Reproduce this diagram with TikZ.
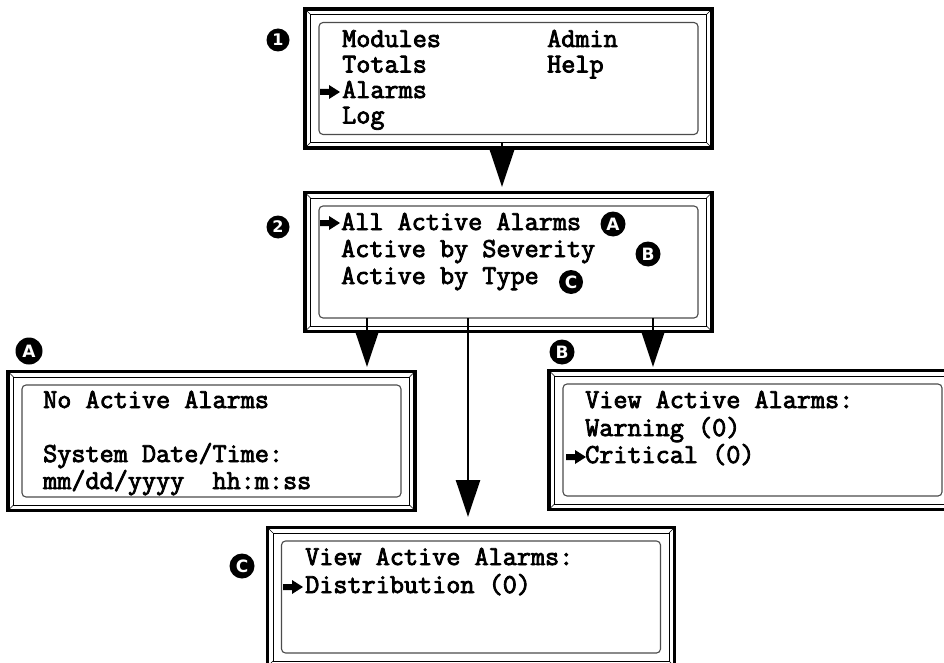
\documentclass[tikz,border=0pt]{standalone}
\usepackage{fontspec}
\setmonofont{Latin Modern Mono}[BoldFont={Latin Modern Mono},BoldFeatures={FakeBold=3}]
\newfontfamily\badgefont{DejaVu Sans}
\usetikzlibrary{arrows.meta,calc}
\tikzset{
 outerf/.style={draw, line width=3.5pt, rectangle, minimum width=407pt, minimum height=139pt, inner sep=0pt, outer sep=0pt},
 thinf/.style={draw, line width=0.8pt, rectangle, minimum width=396pt, minimum height=128pt, inner sep=0pt, outer sep=0pt},
 lcd/.style={draw=black!70, line width=1.1pt, rectangle, rounded corners=4pt, minimum width=379pt, minimum height=112pt, inner sep=0pt, outer sep=0pt},
 lbl/.style={anchor=base west, inner sep=0pt, font=\ttfamily\bfseries\fontsize{27.4}{27.4}\selectfont},
 badge/.style={circle, fill=black, text=white, inner sep=0pt, minimum size=25pt, font=\badgefont\bfseries\fontsize{17}{17}\selectfont},
 numbadge/.style={badge, minimum size=23pt, font=\badgefont\bfseries\fontsize{16}{16}\selectfont},
 conn/.style={line width=2.5pt, -{Triangle[length=37pt,width=24pt]}},
 bevel/.style={line width=0.6pt},
 ptr/.pic={\fill (0,-3) -- (9,-3) -- (9,-7) -- (20,0) -- (9,7) -- (9,3) -- (0,3) -- cycle;}
}
\newcommand\lcdbox[2]{%
  \node[outerf] (o#1) at (#2) {};
  \node[thinf] (t#1) at (#2) {};
  \draw[bevel] (o#1.north west) -- (t#1.north west);
  \draw[bevel] (o#1.north east) -- (t#1.north east);
  \draw[bevel] (o#1.south west) -- (t#1.south west);
  \draw[bevel] (o#1.south east) -- (t#1.south east);
  \node[lcd] (i#1) at (#2) {};
}
\begin{document}
\begin{tikzpicture}[x=1pt,y=-1pt]
\clip (0,0) rectangle (944,663);
\fill[white] (0,0) rectangle (944,663);

% boxes
\lcdbox{1}{508.5,78.5}
\lcdbox{2}{508.5,262}
\lcdbox{A}{211.5,441}
\lcdbox{B}{752.5,440}
\lcdbox{C}{471,597}

% box 1
\node[lbl] (m1) at (342,47) {Modules};
\node[lbl] (m2) at (342,72.5) {Totals};
\node[lbl] (m3) at (342,98) {Alarms};
\node[lbl] (m4) at (342,123.5) {Log};
\node[lbl] (m5) at (547,47) {Admin};
\node[lbl] (m6) at (547,72.5) {Help};
\pic at (320,92) {ptr};

% box 2
\node[lbl] (s1) at (341,230) {All Active Alarms};
\node[lbl] (s2) at (341,257) {Active by Severity};
\node[lbl] (s3) at (341,284) {Active by Type};
\pic at (320,223) {ptr};
\node[badge, minimum size=25pt] (iA) at (613,224) {A};
\node[badge, minimum size=25pt] (iB) at (648,254) {B};
\node[badge, minimum size=24pt] (iC) at (571,282) {C};

% box A
\node[lbl] (a1) at (43,408) {No Active Alarms};
\node[lbl] (a2) at (43,462) {System Date/Time:};
\node[lbl] (a3) at (43,489) {mm/dd/yyyy\ \ hh:m:ss};

% box B
\node[lbl] (b1) at (585,408) {View Active Alarms:};
\node[lbl] (b2) at (585,436) {Warning (0)};
\node[lbl] (b3) at (585,463) {Critical (0)};
\pic at (566,457) {ptr};

% box C
\node[lbl] (c1) at (305,565) {View Active Alarms:};
\node[lbl] (c2) at (305,593) {Distribution (0)};
\pic at (283,587) {ptr};

% badges
\node[numbadge] (n1) at (278,40) {1};
\node[numbadge] (n2) at (278,227) {2};
\node[badge, minimum size=27pt] (bA) at (29,351) {A};
\node[badge] (bB) at (562,352) {B};
\node[badge] (bC) at (242,566) {C};

% connectors
\coordinate (a12) at (502,187);
\draw[conn] (a12 |- t1.south) -- (a12);
\coordinate (aA) at (367,367);
\draw[conn] (aA |- i2.south) -- (aA);
\coordinate (aB) at (653,367);
\draw[conn] (aB |- i2.south) -- (aB);
\coordinate (aC) at (468,517);
\draw[conn] (aC |- i2.south) -- (aC);
\end{tikzpicture}
\end{document}
